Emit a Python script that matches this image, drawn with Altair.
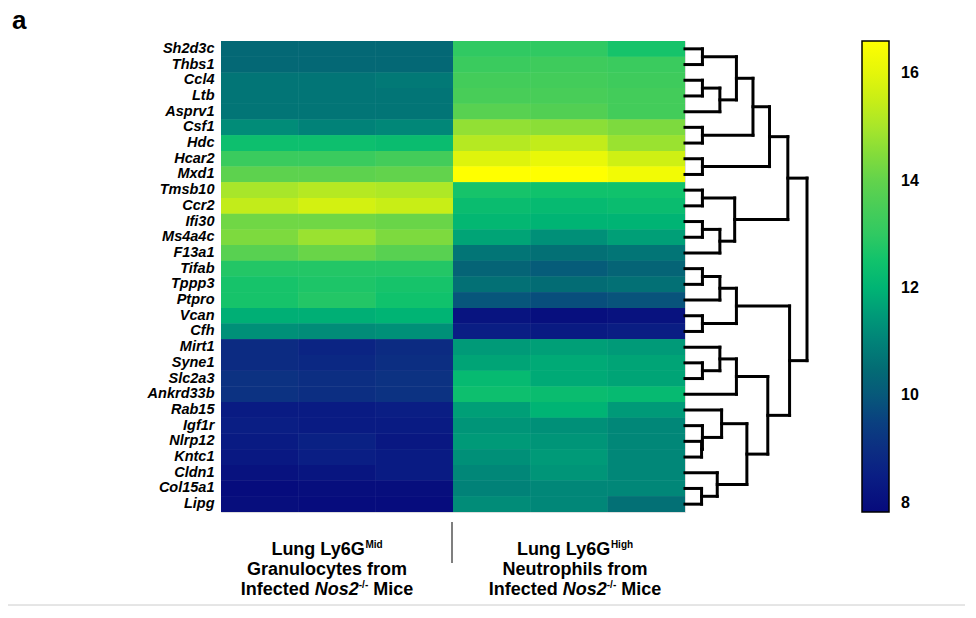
import altair as alt
import pandas as pd

# ---------------- data ----------------
genes = ["Sh2d3c", "Thbs1", "Ccl4", "Ltb", "Asprv1", "Csf1", "Hdc", "Hcar2", "Mxd1",
         "Tmsb10", "Ccr2", "Ifi30", "Ms4a4c", "F13a1", "Tifab", "Tppp3", "Ptpro", "Vcan",
         "Cfh", "Mirt1", "Syne1", "Slc2a3", "Ankrd33b", "Rab15", "Igf1r", "Nlrp12",
         "Kntc1", "Cldn1", "Col15a1", "Lipg"]
samples = ["Mid 1", "Mid 2", "Mid 3", "High 1", "High 2", "High 3"]

mid_1 = [10.4, 10.4, 10.7, 10.7, 10.7, 11.2, 12.4, 13.2, 13.9, 15.0, 15.4, 14.2, 14.4, 13.8, 12.8,
         12.6, 12.6, 11.9, 11.3, 8.9, 8.9, 9.1, 9.1, 8.4, 8.5, 8.4, 8.3, 8.1, 7.9, 7.95]
mid_2 = [10.4, 10.4, 10.7, 10.7, 10.7, 11.0, 12.4, 13.2, 13.9, 15.2, 15.7, 14.2, 14.8, 14.1, 12.8,
         12.7, 12.8, 11.9, 11.2, 8.7, 8.8, 9.0, 9.0, 8.4, 8.4, 8.6, 8.5, 8.2, 7.95, 7.9]
mid_3 = [10.4, 10.4, 10.8, 10.7, 10.7, 11.1, 12.3, 13.4, 14.0, 15.1, 15.5, 14.1, 14.4, 13.8, 12.8,
         12.6, 12.5, 12.0, 11.3, 8.9, 9.0, 9.1, 9.1, 8.5, 8.4, 8.3, 8.4, 8.4, 7.95, 7.9]
high_1 = [13.0, 13.2, 13.4, 13.5, 13.8, 14.7, 15.2, 15.9, 16.6, 12.6, 12.3, 12.1, 11.7, 10.7, 10.3,
          10.6, 9.95, 8.15, 8.5, 11.5, 11.7, 12.2, 12.4, 11.6, 11.4, 11.5, 11.3, 11.1, 11.0, 11.2]
high_2 = [13.0, 13.3, 13.4, 13.5, 13.7, 14.6, 15.4, 16.1, 16.6, 12.5, 12.2, 12.0, 11.3, 10.6, 10.1,
          10.5, 9.8, 8.0, 8.35, 11.6, 11.8, 11.8, 12.3, 12.0, 11.3, 11.4, 11.5, 11.4, 11.1, 11.1]
high_3 = [12.6, 13.2, 13.3, 13.4, 13.4, 14.4, 14.8, 15.6, 16.3, 12.5, 12.3, 12.0, 11.6, 10.7, 10.3,
          10.6, 9.9, 8.1, 8.45, 11.5, 11.7, 11.7, 12.2, 11.5, 11.1, 11.1, 11.1, 11.1, 11.1, 10.6]

# dendrogram merges: (node, left child, right child, height)
merges = [
    ("A", "Sh2d3c", "Thbs1", 1.0),
    ("B", "Ccl4", "Ltb", 1.0),
    ("C", "B", "Asprv1", 2.0),
    ("D", "A", "C", 2.95),
    ("E", "Csf1", "Hdc", 1.0),
    ("F", "D", "E", 3.9),
    ("G", "Hcar2", "Mxd1", 1.0),
    ("H", "F", "G", 4.85),
    ("I", "Tmsb10", "Ccr2", 1.0),
    ("J", "Ifi30", "Ms4a4c", 1.0),
    ("K", "J", "F13a1", 2.0),
    ("L", "I", "K", 2.85),
    ("M", "H", "L", 5.9),
    ("N", "Tifab", "Tppp3", 1.0),
    ("O", "N", "Ptpro", 2.0),
    ("P", "Vcan", "Cfh", 1.0),
    ("Q", "O", "P", 2.95),
    ("R", "Syne1", "Slc2a3", 1.0),
    ("S", "Mirt1", "R", 2.0),
    ("T", "S", "Ankrd33b", 2.95),
    ("U", "Nlrp12", "Kntc1", 0.95),
    ("V", "Igf1r", "U", 1.0),
    ("W", "Rab15", "V", 2.1),
    ("X", "Col15a1", "Lipg", 0.95),
    ("Y", "Cldn1", "X", 1.85),
    ("Z", "W", "Y", 3.55),
    ("AA", "T", "Z", 4.75),
    ("BB", "Q", "AA", 6.0),
    ("root", "M", "BB", 7.0),
]

legend_ticks = [8, 10, 12, 14, 16]

# ---------------- styling ----------------
FONT = "Liberation Sans"
W, H = 464, 471
VMIN, VMAX = 7.83, 16.6
color_dom = [VMIN, 8.5, 9.0, 9.5, 10.0, 10.5, 11.0, 11.5, 12.0, 12.5, 13.0, 13.5, 14.0,
             14.5, 15.0, 15.5, 16.0, VMAX]
color_rng = ["#060a7c", "#0a1e84", "#0c2e82", "#0a4080", "#07587a", "#036c74", "#018278",
             "#009a78", "#00b474", "#10c26c", "#30c962", "#48cd58", "#62d34c", "#84dc3a",
             "#a8e62a", "#c8ee16", "#e4f60a", "#ffff00"]

# ---------------- heatmap ----------------
cols = [mid_1, mid_2, mid_3, high_1, high_2, high_3]
rows = []
for s, col in zip(samples, cols):
    for g, v in zip(genes, col):
        rows.append({"gene": g, "sample": s, "value": v})
heat_df = pd.DataFrame(rows)

color_scale = alt.Scale(domain=color_dom, range=color_rng, interpolate="rgb")
x_heat = alt.X("sample:N", sort=samples, axis=None,
               scale=alt.Scale(paddingInner=0, paddingOuter=0))

heat = alt.Chart(heat_df).mark_rect().encode(
    x=x_heat,
    y=alt.Y("gene:N", sort=genes,
            scale=alt.Scale(paddingInner=0, paddingOuter=0),
            axis=alt.Axis(title=None, ticks=False, domain=False, labelFont=FONT,
                          labelFontSize=14.5, labelFontWeight="bold",
                          labelFontStyle="italic", labelColor="black",
                          labelPadding=7)),
    color=alt.Color("value:Q", scale=color_scale,
                    legend=alt.Legend(orient="none", legendX=641, legendY=0,
                                      direction="vertical", title=None, type="gradient",
                                      gradientLength=H, gradientThickness=27,
                                      values=legend_ticks, labelFont=FONT,
                                      labelFontSize=16, labelFontWeight="bold",
                                      labelColor="black", labelOffset=12,
                                      gradientStrokeColor="black",
                                      gradientStrokeWidth=1.5, padding=0)),
)
# a second copy underneath hides the anti-aliasing seams between cells
heat_under = alt.Chart(heat_df).mark_rect().encode(
    x=x_heat,
    y=alt.Y("gene:N", sort=genes, axis=None,
            scale=alt.Scale(paddingInner=0, paddingOuter=0)),
    color=alt.Color("value:Q", scale=color_scale),
)

# colour-bar tick marks (inside the left edge of the gradient)
cb_ticks = alt.Chart(pd.DataFrame({"v": legend_ticks})).mark_rule(
    color="#222222", strokeWidth=1.5).encode(
    y=alt.Y("v:Q", axis=None, scale=alt.Scale(domain=[VMIN, VMAX], range=[H, 0])),
    x=alt.value(642), x2=alt.value(646),
)

# ---------------- dendrogram ----------------
pos = {g: i + 0.5 for i, g in enumerate(genes)}
hgt = {g: 0.0 for g in genes}
segs = []
for node, a, b, h in merges:
    ya, yb = pos[a], pos[b]
    segs.append({"x0": hgt[a], "x1": h, "y0": ya, "y1": ya})
    segs.append({"x0": hgt[b], "x1": h, "y0": yb, "y1": yb})
    segs.append({"x0": h, "x1": h, "y0": ya, "y1": yb})
    pos[node] = (ya + yb) / 2
    hgt[node] = h
dend_df = pd.DataFrame(segs)

dend = alt.Chart(dend_df).mark_rule(color="black", strokeWidth=3, strokeCap="square").encode(
    x=alt.X("x0:Q", axis=None, scale=alt.Scale(domain=[0, 7], range=[W, W + 122])),
    x2="x1:Q",
    y=alt.Y("y0:Q", axis=None, scale=alt.Scale(domain=[0, 30], range=[0, H])),
    y2="y1:Q",
)

# ---------------- annotations ----------------
ARIAL_BOLD = {' ': 278, '-': 333, '/': 278, '2': 556, '6': 556, 'G': 778, 'H': 722, 'I': 278,
              'L': 611, 'M': 833, 'N': 722, 'a': 556, 'c': 556, 'd': 611, 'e': 556, 'f': 333,
              'g': 611, 'h': 611, 'i': 278, 'l': 278, 'm': 889, 'n': 611, 'o': 611, 'p': 611,
              'r': 389, 's': 556, 't': 333, 'u': 611, 'y': 556}


def tw(s, size):
    return sum(ARIAL_BOLD.get(c, 556) for c in s) * size / 1000.0


def text_layer(t, x, y, size, style="normal", weight="bold", align="left", color="black"):
    return alt.Chart(alt.Data(values=[{"k": 0}])).mark_text(
        text=t, align=align, baseline="alphabetic", font=FONT, fontSize=size,
        fontWeight=weight, fontStyle=style, color=color
    ).encode(x=alt.value(x), y=alt.value(y))


def line_layers(frags, cx, y):
    total = sum(tw(t, s) for t, s, st, dy in frags)
    x = cx - total / 2
    out = []
    for t, s, st, dy in frags:
        lead = len(t) - len(t.lstrip(" "))
        out.append(text_layer(t.strip(" "), x + tw(" " * lead, s), y + dy, s, style=st))
        x += tw(t, s)
    return out


BIG, SUP = 18, 10
annots = []
for cx, sup, line2 in [(106, "Mid", "Granulocytes from"), (354, "High", "Neutrophils from")]:
    annots += line_layers([("Lung Ly6G", BIG, "normal", 0), (sup, SUP, "normal", -7)], cx, 514)
    annots += line_layers([(line2, BIG, "normal", 0)], cx, 534)
    annots += line_layers([("Infected ", BIG, "normal", 0), ("Nos2", BIG, "italic", 0),
                           ("-/-", SUP, "normal", -7), (" Mice", BIG, "normal", 0)], cx, 554)

annots.append(text_layer("a", -209, -12, 26))

sep = alt.Chart(alt.Data(values=[{"k": 0}])).mark_rule(color="#555555", strokeWidth=1.5).encode(
    x=alt.value(231), y=alt.value(481), y2=alt.value(522))
bottom = alt.Chart(alt.Data(values=[{"k": 0}])).mark_rule(color="#cccccc", strokeWidth=1).encode(
    x=alt.value(-213), x2=alt.value(747), y=alt.value(564))

chart = alt.layer(heat_under, heat, cb_ticks, dend, sep, bottom, *annots).resolve_scale(
    x="independent", y="independent"
).properties(
    width=W, height=H,
    autosize=alt.AutoSizeParams(type="none"),
    padding={"left": 213, "top": 33, "right": 280, "bottom": 94},
).configure_view(stroke="#222222", strokeWidth=2).configure(background="white")

chart.save("out.html", embed_options={"renderer": "svg", "actions": False})
